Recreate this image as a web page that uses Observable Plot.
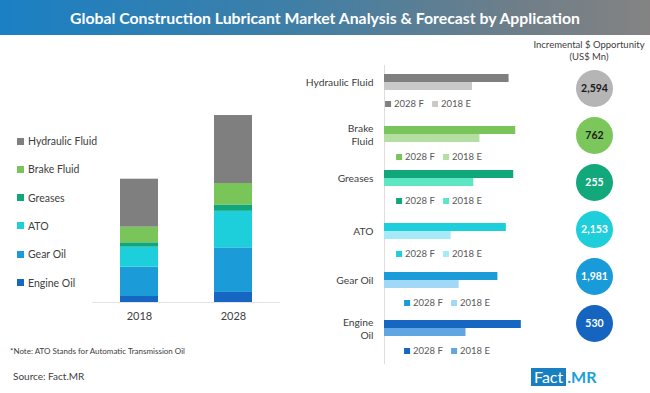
<!DOCTYPE html>
<html>
<head>
<meta charset="utf-8">
<script src="https://cdn.jsdelivr.net/npm/d3@7"></script>
<script src="https://cdn.jsdelivr.net/npm/@observablehq/plot@0.6"></script>
<style>
  body { margin: 0; background: #fff; }
  #root { position: relative; width: 650px; height: 393px; overflow: hidden; background: #fff; font-family: Lato, "Open Sans", sans-serif; color: #404040; }
  .abs { position: absolute; }
  #banner { left: 0; top: 0; width: 650px; height: 35px; line-height: 35px; text-align: center; color: #fff; font-weight: bold; font-size: 15.8px;
    background: linear-gradient(to right, #1a80c4 0%, #3f7fa6 45%, #6f7e88 80%, #838383 100%); }
  .leg { left: 17px; font-size: 10.5px; line-height: 14px; display: flex; align-items: center; white-space: nowrap; }
  .sw { width: 7px; height: 7px; margin-right: 4px; display: inline-block; }
  .rleg { font-size: 9.5px; line-height: 12px; display: flex; align-items: center; white-space: nowrap; transform: translateX(-50%); color: #595959; }
  .rleg .sw { width: 6px; height: 6px; margin-right: 3px; }
  .rleg .item { display: flex; align-items: center; margin: 0 4px; }
</style>
</head>
<body>
<div id="root">
  <div id="banner" class="abs">Global Construction Lubricant Market Analysis &amp; Forecast by Application</div>
  <div class="abs" style="left:524px; top:39px; width:130px; text-align:center; font-size:9.5px; line-height:12px; color:#404040;">Incremental $ Opportunity<br>(US$ Mn)</div>
  <div class="abs" style="left:10px; top:346px; font-size:8px; color:#404040;">*Note: ATO Stands for Automatic Transmission Oil</div>
  <div class="abs" style="left:13px; top:370px; font-size:10px; color:#404040;">Source: Fact.MR</div>
  <div class="abs" style="left:531px; top:368px; height:18px; display:flex; align-items:stretch;">
    <span style="background:#1a7fc1; color:#fff; font-size:16px; line-height:18px; padding:0 3px;">Fact</span>
    <span style="color:#1aa0dc; font-size:16px; font-weight:bold; line-height:18px; padding-left:1px;">.MR</span>
  </div>
</div>
<script>
// ---- data ----
const categories = ["Hydraulic Fluid", "Brake Fluid", "Greases", "ATO", "Gear Oil", "Engine Oil"];
const panelLabels = ["Hydraulic Fluid", "Brake\nFluid", "Greases", "ATO", "Gear Oil", "Engine\nOil"];
const years = ["2018", "2028"];
const value2018 = [6240, 2030, 570, 2600, 3810, 780];   // US$ Mn (estimated)
const value2028 = [8834, 2792, 825, 4753, 5791, 1310];  // US$ Mn (estimated)
const incremental = [2594, 762, 255, 2153, 1981, 530];  // US$ Mn
const seriesLabels = ["2028 F", "2018 E"];
const panelMax = [10000, 3000, 900, 5500, 7200, 1350];  // per-panel axis maximum

// ---- styles ----
const darkColors = ["#7f7f7f", "#7ac55a", "#12a67b", "#1dcfda", "#1b9bd8", "#1766c2"];
const lightColors = ["#c9c9c9", "#b5dfa2", "#5ee6c4", "#a6eaf7", "#a0d8f6", "#5fa6e3"];
const circleColors = ["#b5b5b5", "#7cc75b", "#13a77c", "#1ecfdb", "#1a9bd9", "#1565c0"];
const circleText = ["#1a1a1a", "#1a1a1a", "#ffffff", "#ffffff", "#ffffff", "#ffffff"];
const rowTop = [72.7, 125.3, 169.3, 222.3, 271, 319];
const legendX = [428, 439, 439, 439, 447, 447];

const root = document.getElementById("root");
const font = {fontFamily: "Lato, 'Open Sans', sans-serif", fontSize: "11px", color: "#404040", background: "transparent"};

function place(el, left, top) {
  el.style.position = "absolute";
  el.style.left = left + "px";
  el.style.top = top + "px";
  root.appendChild(el);
}

// ---- left legend ----
categories.forEach((c, i) => {
  const d = document.createElement("div");
  d.className = "leg abs";
  d.style.top = (134 + i * 28.3) + "px";
  d.innerHTML = `<span class="sw" style="background:${darkColors[i]}"></span>${c}`;
  root.appendChild(d);
});

// ---- stacked chart ----
const stacked = [];
for (let i = categories.length - 1; i >= 0; i--) {
  stacked.push({year: years[0], category: categories[i], value: value2018[i]});
  stacked.push({year: years[1], category: categories[i], value: value2028[i]});
}
const left = Plot.plot({
  width: 300, height: 250,
  marginLeft: 92, marginRight: 20, marginTop: 22, marginBottom: 28,
  style: font,
  x: {domain: years, paddingInner: 0.6, paddingOuter: 0.3, label: null, tickSize: 0, tickPadding: 10},
  y: {domain: [0, 26000], axis: null},
  color: {domain: categories, range: darkColors},
  marks: [
    Plot.ruleY([0], {stroke: "#e3e3e3"}),
    Plot.barY(stacked, {x: "year", y: "value", fill: "category"})
  ]
});
left.querySelectorAll("[aria-label='x-axis tick label'] text").forEach(t => t.style.fontSize = "11px");
place(left, 0, 80);

// ---- right panels ----
categories.forEach((c, i) => {
  const rows = [
    {series: seriesLabels[0], value: value2028[i], color: darkColors[i]},
    {series: seriesLabels[1], value: value2018[i], color: lightColors[i]}
  ];
  const p = Plot.plot({
    width: 240, height: 8 + 17.3 + 30,
    marginLeft: 94, marginRight: 5, marginTop: 8, marginBottom: 30,
    style: font,
    x: {domain: [0, panelMax[i]], axis: null},
    y: {domain: seriesLabels, axis: null, padding: 0},
    color: {type: "identity"},
    marks: [
      Plot.ruleX([0], {stroke: "#dedede", insetTop: -8, insetBottom: -28}),
      Plot.barX(rows, {x: "value", y: "series", fill: "color"}),
      Plot.text([panelLabels[i]], {frameAnchor: "left", dx: -11, textAnchor: "end", lineHeight: 1.3, fontSize: 10.3, fill: "#404040"})
    ]
  });
  place(p, 290, rowTop[i] - 8);

  const lg = document.createElement("div");
  lg.className = "rleg";
  lg.innerHTML = `<span class="item"><span class="sw" style="background:${darkColors[i]}"></span>${seriesLabels[0]}</span>` +
                 `<span class="item"><span class="sw" style="background:${lightColors[i]}"></span>${seriesLabels[1]}</span>`;
  place(lg, legendX[i], rowTop[i] + 8.65 + 23 - 6);
});

// ---- circles ----
const circ = categories.map((c, i) => ({category: c, value: incremental[i], fill: circleColors[i], text: circleText[i]}));
const circles = Plot.plot({
  width: 68, height: 292,
  margin: 0, marginTop: 26, marginBottom: 27,
  style: font,
  x: {axis: null},
  y: {type: "point", domain: categories, axis: null, padding: 0},
  color: {type: "identity"},
  marks: [
    Plot.dot(circ, {y: "category", r: 18.5, fill: "fill", stroke: null}),
    Plot.text(circ, {y: "category", text: d => d3.format(",")(d.value), fill: "text", fontWeight: "bold", fontSize: 10.5})
  ]
});
place(circles, 560, 60);
</script>
</body>
</html>
